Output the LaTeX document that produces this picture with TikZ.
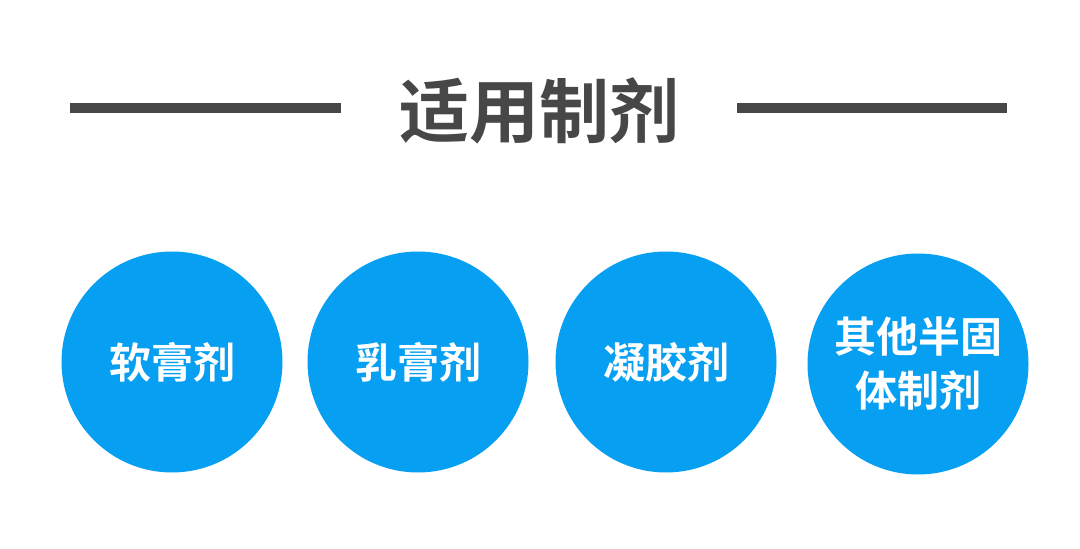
\documentclass[tikz,border=0pt]{standalone}
\usepackage{fontspec}
\newfontfamily\cjkb{Noto Sans CJK SC Bold}
\definecolor{titlegray}{HTML}{474747}
\definecolor{circblue}{HTML}{069FF2}
\begin{document}
\begin{tikzpicture}[x=1bp,y=-1bp,
  titletext/.style={font=\cjkb\fontsize{70bp}{80bp}\selectfont, text=titlegray, inner sep=0pt},
  rule/.style={line width=10bp, draw=titlegray},
  bubble/.style={circle, fill=circblue, minimum size=221bp, inner sep=0pt, text=white,
    font=\cjkb\fontsize{42bp}{54bp}\selectfont, align=center}]
\useasboundingbox (0,0) rectangle (1080,549);
\node[titletext] (title) at (539,111) {适用制剂};
\coordinate (l1) at (70,108);
\coordinate (l2) at (341,108);
\coordinate (r1) at (737,108);
\coordinate (r2) at (1007,108);
\draw[rule] (l1) -- (l2);
\draw[rule] (r1) -- (r2);
\node[bubble] (c1) at (172,362) {软膏剂};
\node[bubble] (c2) at (418,362) {乳膏剂};
\node[bubble] (c3) at (666,362) {凝胶剂};
\node[bubble] (c4) at (918,364) {其他半固\\体制剂};
\end{tikzpicture}
\end{document}
